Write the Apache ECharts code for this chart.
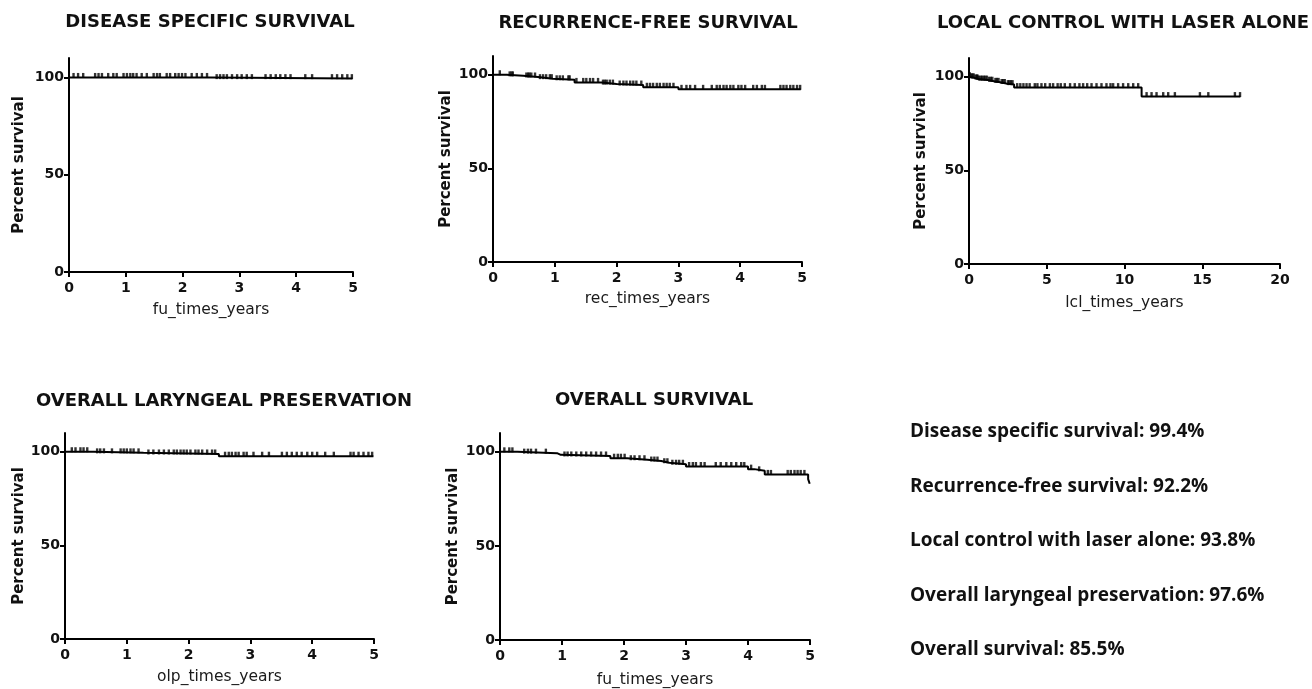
<!DOCTYPE html>
<html><head><meta charset="utf-8">
<script src="https://cdn.jsdelivr.net/npm/echarts@6/dist/echarts.min.js"></script>
<style>html,body{margin:0;padding:0;background:#fff}#c{width:1312px;height:689px}</style>
</head><body><div id="c"></div>
<script>
// ---------- data ----------
const panelTitles = ['DISEASE SPECIFIC SURVIVAL','RECURRENCE-FREE SURVIVAL','LOCAL CONTROL WITH LASER ALONE','OVERALL LARYNGEAL PRESERVATION','OVERALL SURVIVAL'];
const xAxisNames = ['fu_times_years','rec_times_years','lcl_times_years','olp_times_years','fu_times_years'];
const yAxisName = 'Percent survival';
const yTicks = [0, 50, 100];
const xMaxes = [5, 5, 20, 5, 5];
const xIntervals = [1, 1, 5, 1, 1];

// Kaplan-Meier steps [time, percent]
const dssSteps = [[0,100],[2.49,99.4],[4.99,99.4]];
const dssCensor = [0.08,0.16,0.25,0.46,0.52,0.58,0.69,0.78,0.84,0.96,1.02,1.08,1.13,1.19,1.28,1.37,1.49,1.55,1.60,1.72,1.78,1.87,1.93,1.99,2.05,2.16,2.25,2.34,2.43,2.60,2.66,2.72,2.78,2.87,2.96,3.04,3.13,3.22,3.46,3.55,3.64,3.72,3.81,3.90,4.16,4.28,4.63,4.72,4.81,4.90,4.98];

const rfsSteps = [[0,100],[0.22,99.4],[0.49,98.8],[0.73,97.9],[0.97,97.3],[1.32,95.9],[1.76,95.0],[2.0,94.5],[2.43,93.3],[3.0,92.2],[4.98,92.2]];
const rfsCensor = [0.11,0.27,0.30,0.32,0.54,0.57,0.59,0.62,0.68,0.76,0.81,0.86,0.92,0.95,1.03,1.08,1.13,1.22,1.24,1.35,1.46,1.51,1.57,1.62,1.70,1.78,1.81,1.84,1.89,1.94,2.05,2.11,2.16,2.22,2.27,2.32,2.40,2.49,2.54,2.59,2.65,2.70,2.76,2.81,2.86,2.92,3.05,3.13,3.19,3.27,3.40,3.54,3.62,3.67,3.73,3.78,3.84,3.89,3.97,4.02,4.08,4.21,4.27,4.35,4.40,4.65,4.70,4.75,4.81,4.86,4.92,4.97];

const lcSteps = [[0,100],[0.1,99.4],[0.35,98.8],[0.6,98.2],[1.2,97.6],[1.6,97.0],[2.0,96.4],[2.4,95.8],[2.9,94.2],[11.1,89.4],[17.45,89.4]];
const lcCensor = [0.05,0.15,0.22,0.3,0.42,0.5,0.55,0.65,0.75,0.85,0.95,1.05,1.15,1.3,1.4,1.5,1.7,1.8,1.9,2.1,2.2,2.3,2.5,2.6,2.7,2.8,3.1,3.3,3.5,3.7,3.9,4.23,4.4,4.66,4.9,5.2,5.41,5.7,5.9,6.16,6.5,6.8,7.1,7.34,7.6,7.88,8.2,8.52,8.84,9.1,9.27,9.59,9.91,10.24,10.56,10.88,11.42,11.74,12.06,12.49,12.81,13.24,14.85,15.39,17.10,17.43];

const olpSteps = [[0,100],[0.46,99.4],[1.27,98.8],[2.49,97.6],[4.99,97.6]];
const olpCensor = [0.11,0.17,0.25,0.30,0.36,0.52,0.57,0.63,0.76,0.90,0.95,1.00,1.06,1.11,1.19,1.35,1.43,1.52,1.60,1.68,1.76,1.81,1.87,1.92,1.97,2.03,2.11,2.16,2.22,2.30,2.38,2.43,2.59,2.65,2.70,2.76,2.81,2.89,2.94,3.05,3.19,3.30,3.51,3.59,3.67,3.75,3.83,3.92,4.00,4.08,4.21,4.35,4.62,4.67,4.75,4.83,4.91,4.97];

const osSteps = [[0,100],[0.28,99.3],[0.92,98.4],[0.98,97.8],[1.78,96.6],[2.05,95.8],[2.38,95.1],[2.6,94.2],[2.73,93.4],[3.0,92.2],[4.0,90.8],[4.1,89.9],[4.27,88.0],[4.97,85.5],[4.995,83.0],[5.0,83.0]];
const osCensor = [0.07,0.15,0.20,0.39,0.45,0.50,0.58,0.74,1.04,1.09,1.15,1.23,1.31,1.39,1.47,1.55,1.63,1.71,1.84,1.90,1.95,2.01,2.11,2.17,2.25,2.33,2.44,2.49,2.54,2.65,2.70,2.78,2.84,2.89,2.95,3.05,3.11,3.16,3.24,3.30,3.48,3.56,3.65,3.73,3.81,3.89,3.94,4.05,4.18,4.32,4.37,4.64,4.69,4.75,4.80,4.85,4.91];

const summaryLines = ['Disease specific survival: 99.4%','Recurrence-free survival: 92.2%','Local control with laser alone: 93.8%','Overall laryngeal preservation: 97.6%','Overall survival: 85.5%'];

// ---------- layout ----------
const allSteps = [dssSteps, rfsSteps, lcSteps, olpSteps, osSteps];
const allCensor = [dssCensor, rfsCensor, lcCensor, olpCensor, osCensor];
const grids = [
  {left: 69, top: 58, width: 284, height: 214},
  {left: 493, top: 56, width: 309, height: 206},
  {left: 969, top: 58, width: 311, height: 206},
  {left: 65, top: 433, width: 309, height: 206},
  {left: 500, top: 433, width: 310, height: 207}
];
const titlePos = [[210, 22.5],[648, 23],[1123, 23],[224, 401.5],[654, 400.5]];
const yNameGaps = [42, 39, 40, 38, 39];
const xNameGaps = [30, 29, 31, 30, 32];

function stepValue(steps, t) {
  let v = steps[0][1];
  for (const s of steps) { if (s[0] <= t) v = s[1]; }
  return v;
}

const tickFont = {fontFamily: 'DejaVu Sans', fontWeight: 'bold', fontSize: 14, color: '#111'};
const xAxes = [], yAxes = [], series = [];
grids.forEach((g, i) => {
  xAxes.push({
    type: 'value', gridIndex: i, min: 0, max: xMaxes[i], interval: xIntervals[i],
    name: xAxisNames[i], nameLocation: 'middle', nameGap: xNameGaps[i],
    nameTextStyle: {fontFamily: 'DejaVu Sans', fontSize: 15.5, color: '#1a1a1a'},
    axisLine: {show: true, onZero: false, lineStyle: {color: '#000', width: 2}},
    axisTick: {show: true, length: 5, lineStyle: {color: '#000', width: 2}},
    axisLabel: Object.assign({margin: 9}, tickFont),
    splitLine: {show: false}
  });
  yAxes.push({
    type: 'value', gridIndex: i, min: 0, max: 110,
    name: yAxisName, nameLocation: 'middle', nameGap: yNameGaps[i],
    nameTextStyle: {fontFamily: 'DejaVu Sans', fontWeight: 'bold', fontSize: 15, color: '#111'},
    axisLine: {show: true, onZero: false, lineStyle: {color: '#000', width: 2}},
    axisTick: {show: true, length: 5, customValues: yTicks, lineStyle: {color: '#000', width: 2}},
    axisLabel: Object.assign({margin: 5, customValues: yTicks}, tickFont),
    splitLine: {show: false}
  });
  series.push({
    type: 'line', xAxisIndex: i, yAxisIndex: i, step: 'end', data: allSteps[i],
    showSymbol: false, symbol: 'none', lineStyle: {color: '#000', width: 2}, silent: true, z: 3
  });
  series.push({
    type: 'scatter', xAxisIndex: i, yAxisIndex: i,
    data: allCensor[i].map(t => [t, stepValue(allSteps[i], t)]),
    symbol: 'rect', symbolSize: [2.4, 5], symbolOffset: [0, -2],
    itemStyle: {color: '#000'}, silent: true, z: 4
  });
});

const graphics = [];
panelTitles.forEach((t, i) => {
  graphics.push({type: 'text', x: titlePos[i][0], y: titlePos[i][1], silent: true,
    style: {text: t, fontFamily: 'DejaVu Sans', fontWeight: 'bold', fontSize: 18, fill: '#111', align: 'center', verticalAlign: 'middle'}});
});
summaryLines.forEach((t, i) => {
  graphics.push({type: 'text', x: 910, y: 432 + i * 54.5, silent: true,
    style: {text: t, fontFamily: 'Open Sans', fontWeight: 'bold', fontSize: 19, fill: '#111', align: 'left', verticalAlign: 'middle'}});
});

const chart = echarts.init(document.getElementById('c'), null, {renderer: 'canvas'});
chart.setOption({
  animation: false,
  backgroundColor: '#fff',
  grid: grids.map(g => Object.assign({containLabel: false}, g)),
  xAxis: xAxes, yAxis: yAxes, series: series, graphic: graphics
});
</script></body></html>
